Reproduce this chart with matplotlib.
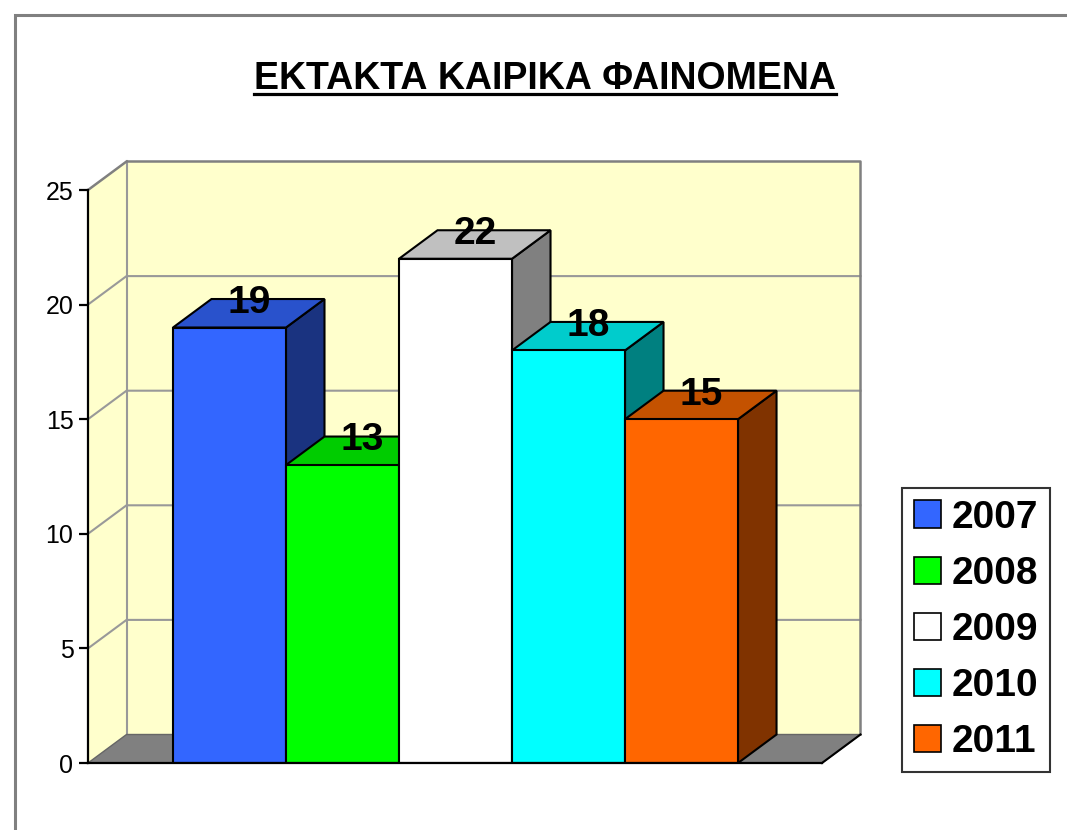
import matplotlib
matplotlib.use("Agg")
import matplotlib.pyplot as plt
from matplotlib.patches import Polygon, Patch, Rectangle
from matplotlib.lines import Line2D

# ---- data ----
years = ["2007", "2008", "2009", "2010", "2011"]
values = [19, 13, 22, 18, 15]
yticks = [0, 5, 10, 15, 20, 25]
title = "ΕΚΤΑΚΤΑ ΚΑΙΡΙΚΑ ΦΑΙΝΟΜΕΝΑ"

# ---- styles ----
front_colors = ["#3366FF", "#00FF00", "#FFFFFF", "#00FFFF", "#FF6600"]
top_colors = ["#2952CC", "#00CC00", "#C0C0C0", "#00CCCC", "#C45200"]
side_colors = ["#1A3380", "#008000", "#808080", "#008080", "#803300"]
wall_color = "#FFFFCC"
grid_color = "#999999"
floor_color = "#808080"

plt.rcParams["font.family"] = ["Liberation Sans", "DejaVu Sans"]

W, H = 1067, 830
fig = plt.figure(figsize=(W / 100, H / 100), dpi=100)

# outer gray frame (only top/left visible in reference)
fig.patches.append(Rectangle((15 / W, -0.2), 1.5, (H - 15) / H + 0.2,
                             transform=fig.transFigure, fill=False,
                             edgecolor="#808080", linewidth=2.2))

ax = fig.add_axes([88 / W, (H - 763) / H, (822 - 88) / W, (763 - 190) / H])
ax.set_facecolor("none")

x0, x1 = -1.252, 5.243
ymax = 25
ax.set_xlim(x0, x1)
ax.set_ylim(0, ymax)
dx, dy = 0.3407, 1.2435  # depth offset in data units

# walls
ax.add_patch(Polygon([(x0 + dx, dy), (x1 + dx, dy), (x1 + dx, ymax + dy), (x0 + dx, ymax + dy)],
                     closed=True, facecolor=wall_color, edgecolor="none", zorder=0.5, clip_on=False))
ax.add_patch(Polygon([(x0, 0), (x0 + dx, dy), (x0 + dx, ymax + dy), (x0, ymax)],
                     closed=True, facecolor=wall_color, edgecolor="none", zorder=0.5, clip_on=False))
# gridlines
for t in yticks[1:-1]:
    ax.plot([x0, x0 + dx, x1 + dx], [t, t + dy, t + dy], color=grid_color, lw=1.5,
            zorder=0.6, clip_on=False)
# wall edges
ax.plot([x0, x0 + dx, x1 + dx, x1 + dx], [ymax, ymax + dy, ymax + dy, dy],
        color="#808080", lw=1.8, zorder=0.62, clip_on=False)
ax.plot([x0 + dx, x0 + dx], [dy, ymax + dy], color=grid_color, lw=1.5, zorder=0.61, clip_on=False)
# floor
ax.add_patch(Polygon([(x0, 0), (x1, 0), (x1 + dx, dy), (x0 + dx, dy)],
                     closed=True, facecolor=floor_color, edgecolor="#666666", lw=1.0,
                     zorder=0.7, clip_on=False))
ax.plot([x1, x1 + dx], [0, dy], color="black", lw=1.5, zorder=0.71, clip_on=False)

# bars
xs = list(range(len(values)))
hw = 0.5
for i, (x, v) in enumerate(zip(xs, values)):
    z = 2 + i
    ax.bar(x, v, width=1.0, color=front_colors[i], edgecolor="black", linewidth=1.5, zorder=z + 0.3)
    ax.add_patch(Polygon([(x - hw, v), (x + hw, v), (x + hw + dx, v + dy), (x - hw + dx, v + dy)],
                         closed=True, facecolor=top_colors[i], edgecolor="black", lw=1.5,
                         zorder=z + 0.2, clip_on=False))
    ax.add_patch(Polygon([(x + hw, 0), (x + hw + dx, dy), (x + hw + dx, v + dy), (x + hw, v)],
                         closed=True, facecolor=side_colors[i], edgecolor="black", lw=1.5,
                         zorder=z + 0.1, clip_on=False))

# data labels
for i, (x, v) in enumerate(zip(xs, values)):
    ax.annotate(str(v), xy=(x + dx / 2, v + dy), xytext=(0, -10), textcoords="offset points",
                ha="center", va="baseline", fontsize=28, fontweight="bold", zorder=20,
                annotation_clip=False)

# axes styling
for s in ["top", "right"]:
    ax.spines[s].set_visible(False)
ax.spines["left"].set_linewidth(1.6)
ax.spines["bottom"].set_linewidth(1.6)
ax.spines["left"].set_zorder(15)
ax.spines["bottom"].set_zorder(15)
ax.set_xticks([])
ax.set_yticks(yticks)
ax.tick_params(axis="y", direction="out", length=6.5, width=1.6, pad=4, labelsize=18)

# title
t = fig.text(545 / W, (H - 89) / H, title, ha="center", va="baseline",
             fontsize=27, fontweight="bold")
fig.canvas.draw()
bb = t.get_window_extent()
fig.add_artist(Line2D([bb.x0 / W, bb.x1 / W], [(H - 94) / H] * 2, transform=fig.transFigure,
                      color="black", lw=2.3))

# legend
handles = [Patch(facecolor=c, edgecolor="black", linewidth=1.2) for c in front_colors]
leg = fig.legend(handles, years, loc="center left", bbox_to_anchor=(902 / W, (H - 630) / H),
                 prop={"size": 28, "weight": "bold"}, frameon=True, fancybox=False,
                 edgecolor="black", handlelength=0.7, handleheight=0.7, handletextpad=0.28,
                 labelspacing=0.52, borderpad=0.3, borderaxespad=0)
leg.get_frame().set_linewidth(1.5)

fig.savefig("out.png", dpi=100)
